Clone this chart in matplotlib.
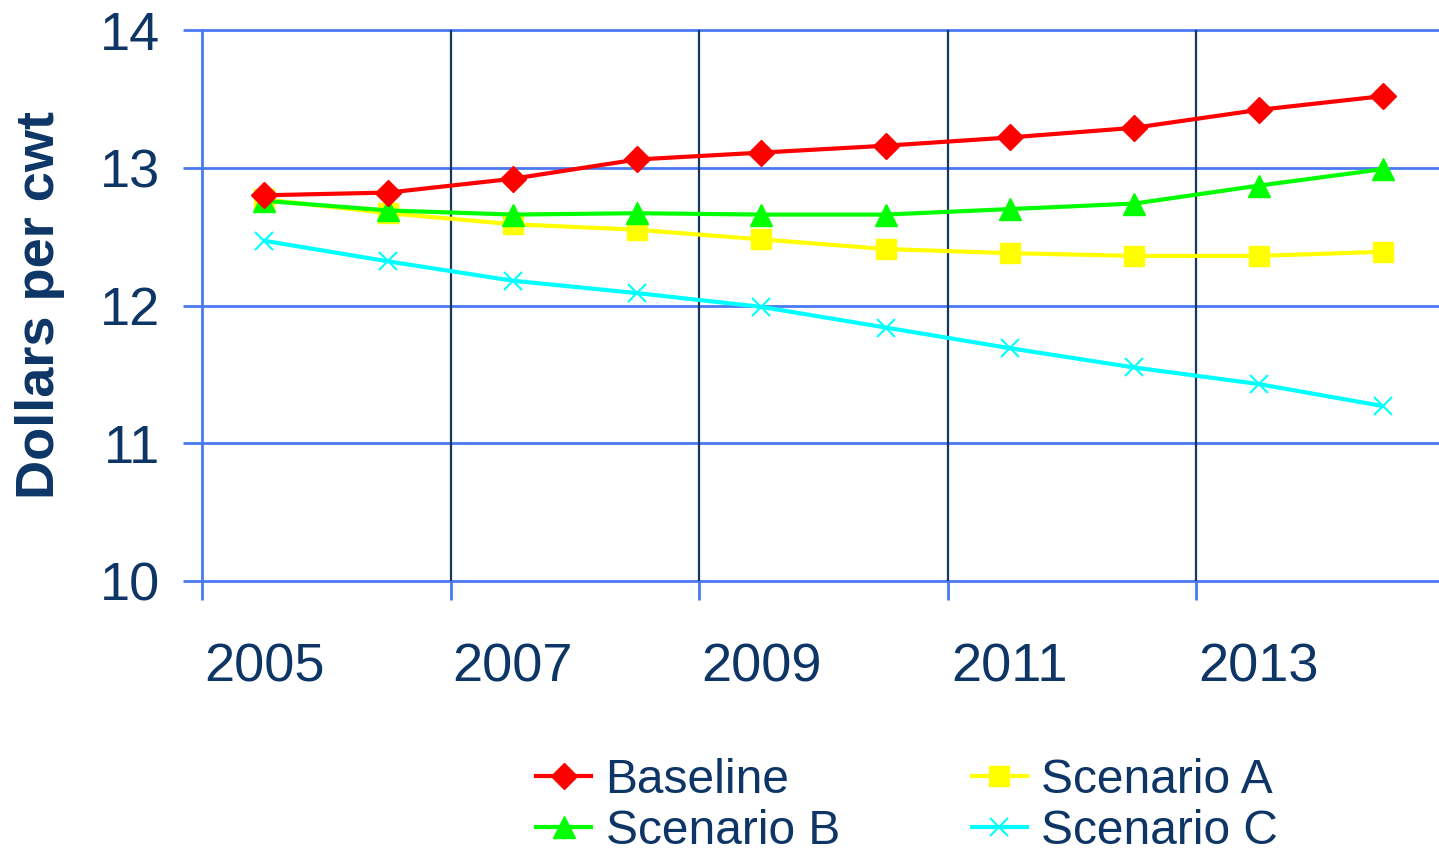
import matplotlib
matplotlib.use("Agg")
import matplotlib.pyplot as plt

years = [2005, 2006, 2007, 2008, 2009, 2010, 2011, 2012, 2013, 2014]
baseline = [12.80, 12.82, 12.92, 13.06, 13.11, 13.16, 13.22, 13.29, 13.42, 13.52]
scenario_a = [12.77, 12.67, 12.59, 12.55, 12.48, 12.41, 12.38, 12.36, 12.36, 12.39]
scenario_b = [12.76, 12.69, 12.66, 12.67, 12.66, 12.66, 12.70, 12.74, 12.87, 12.99]
scenario_c = [12.47, 12.32, 12.18, 12.09, 11.99, 11.84, 11.69, 11.55, 11.43, 11.27]
xtick_labels = ["2005", "2007", "2009", "2011", "2013"]
ytick_values = [10, 11, 12, 13, 14]

TEXT = "#0d3566"
GRID_H = "#4a7af2"
GRID_V = "#17375e"

plt.rcParams['font.family'] = ['Liberation Sans', 'DejaVu Sans']

W, H = 1439, 859
fig = plt.figure(figsize=(W / 100, H / 100), dpi=100)
left, right, top, bottom = 202, 1445, 30, 581
ax = fig.add_axes([left / W, 1 - bottom / H, (right - left) / W, (bottom - top) / H])

x = list(range(len(years)))

ax.set_xlim(-0.5, len(years) - 0.5)
ax.set_ylim(10, 14)

# gridlines
for yv in ytick_values:
    ax.axhline(yv, color=GRID_H, lw=2, zorder=1, clip_on=False)
for b in [1.5, 3.5, 5.5, 7.5]:
    ax.axvline(b, color=GRID_V, lw=1.6, zorder=1)

for s in ax.spines.values():
    s.set_visible(False)
ax.spines['left'].set_visible(True)
ax.spines['left'].set_color(GRID_H)
ax.spines['left'].set_linewidth(2)

# ticks
ax.set_yticks(ytick_values)
ax.set_yticklabels([str(v) for v in ytick_values], fontsize=39, color=TEXT)
ax.tick_params(axis='y', length=14, width=2, color=GRID_H, pad=16)

ax.set_xticks([-0.5, 1.5, 3.5, 5.5, 7.5])
ax.set_xticklabels([])
ax.tick_params(axis='x', length=14, width=2, color=GRID_H)
ax.set_xticks([0, 2, 4, 6, 8], minor=True)
ax.set_xticklabels(xtick_labels, minor=True, fontsize=39, color=TEXT)
ax.tick_params(axis='x', which='minor', length=0, pad=44)

ax.set_ylabel("Dollars per cwt", fontsize=39, fontweight='bold', color=TEXT)
ax.yaxis.set_label_coords((65 - left) / (right - left), (581 - 305) / (581 - 30))

lw = 3
l1, = ax.plot(x, baseline, color='#ff0000', lw=lw, marker='D', ms=13, zorder=5, label='Baseline', clip_on=False)
l2, = ax.plot(x, scenario_a, color='#ffff00', lw=lw, marker='s', ms=14, zorder=3, label='Scenario A', clip_on=False)
l3, = ax.plot(x, scenario_b, color='#00ff00', lw=lw, marker='^', ms=16, zorder=4, label='Scenario B', clip_on=False)
l4, = ax.plot(x, scenario_c, color='#00ffff', lw=lw, marker='x', ms=13, mew=1.5, zorder=2, label='Scenario C', clip_on=False)

leg = fig.legend([l1, l3, l2, l4], ['Baseline', 'Scenario B', 'Scenario A', 'Scenario C'],
                 ncol=2, frameon=False, fontsize=34.5, loc='center',
                 bbox_to_anchor=(907 / W, 1 - 806 / H),
                 handlelength=1.15, handletextpad=0.3, columnspacing=2.75,
                 labelspacing=0.12, borderaxespad=0, borderpad=0)
for t in leg.get_texts():
    t.set_color(TEXT)

fig.savefig("out.png", dpi=100)
